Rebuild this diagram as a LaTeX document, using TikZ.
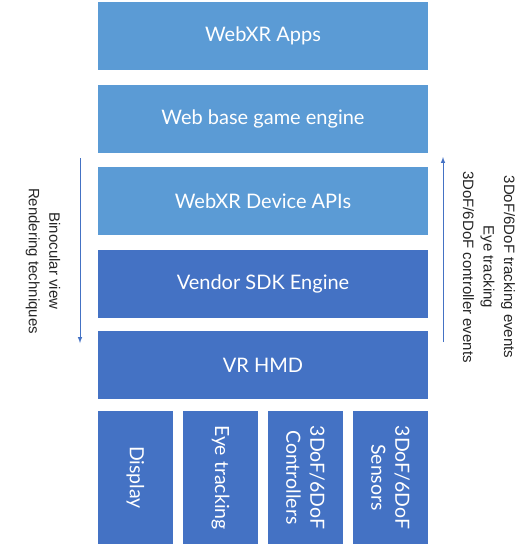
\documentclass[tikz,border=0pt]{standalone}
\usepackage{fontspec}
\setmainfont{Lato}
\newfontfamily\sidefont{Liberation Sans}
\usetikzlibrary{arrows}
\definecolor{lightblue}{HTML}{5B9BD5}
\definecolor{darkblue}{HTML}{4472C4}
\definecolor{labelgray}{HTML}{262626}

\begin{document}
\begin{tikzpicture}[x=1pt,y=-1pt,
	layer/.style={fill=#1,text=white,minimum width=330pt,minimum height=68pt,inner sep=0pt,font=\fontsize{20}{22}\selectfont},
	device/.style={fill=darkblue,text=white,minimum width=133pt,minimum height=75pt,inner sep=0pt,rotate=-90,align=center,font=\fontsize{19.5}{24}\selectfont},
	sidelabel/.style={text=labelgray,rotate=-90,align=center,font=\sidefont\fontsize{15}{20.5}\selectfont}]
	%% page size
	\useasboundingbox (0,0) rectangle (526,546);

	% the stack
	\node[layer=lightblue] (apps) at (263,36) {WebXR Apps};
	\node[layer=lightblue] (engine) at (263,119) {Web base game engine};
	\node[layer=lightblue] (api) at (263,201) {WebXR Device APIs};
	\node[layer=darkblue] (sdk) at (263,284) {Vendor SDK Engine};
	\node[layer=darkblue] (hmd) at (263,365) {VR HMD};

	% devices of the HMD
	\node[device] (display) at (135.5,477.5) {Display};
	\node[device] (eye) at (220.5,477.5) {Eye tracking};
	\node[device] (ctrl) at (305.5,477.5) {3DoF/6DoF\\Controllers};
	\node[device] (sensor) at (390.5,477.5) {3DoF/6DoF\\Sensors};

	% data flow
	\coordinate (downtop) at (80,158);
	\coordinate (downend) at (80,343);
	\coordinate (uptop) at (443,157);
	\coordinate (upend) at (443,342);
	\draw[-latex,darkblue,line width=1pt] (downtop) -- (downend);
	\draw[-latex,darkblue,line width=1pt] (upend) -- (uptop);

	\node[sidelabel] (render) at (43,261) {Binocular view\\Rendering techniques};
	\node[sidelabel] (events) at (489,267) {3DoF/6DoF tracking events\\Eye tracking\\3DoF/6DoF controller events};
\end{tikzpicture}
\end{document}
